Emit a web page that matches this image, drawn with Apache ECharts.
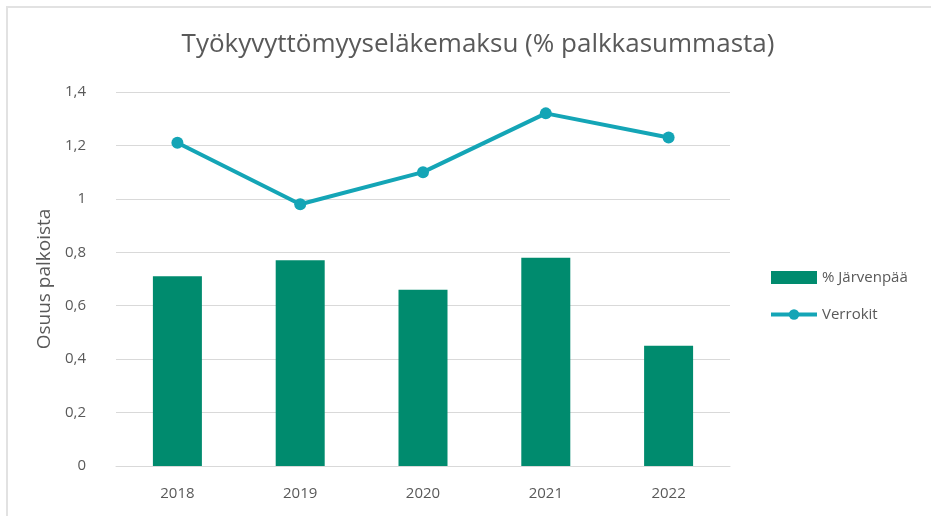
<!DOCTYPE html>
<html>
<head>
<meta charset="utf-8">
<script src="https://cdn.jsdelivr.net/npm/echarts@6/dist/echarts.min.js"></script>
<style>
  html, body { margin: 0; padding: 0; background: #fff; }
  #frame { position: absolute; left: 6px; top: 6px; width: 925px; height: 510px;
           border-left: 2px solid #e2e2e2; border-top: 2px solid #e2e2e2; box-sizing: border-box; }
  #chart { position: absolute; left: 0; top: 0; width: 931px; height: 516px; }
</style>
</head>
<body>
<div id="frame"></div>
<div id="chart"></div>
<script>
const years = ['2018', '2019', '2020', '2021', '2022'];
const jarvenpaa = [0.71, 0.77, 0.66, 0.78, 0.45];
const verrokit = [1.21, 0.98, 1.10, 1.32, 1.23];

const textColor = '#595959';
const font = 'Open Sans';

const myChart = echarts.init(document.getElementById('chart'));

const option = {
  textStyle: { fontFamily: font },
  title: {
    text: 'Työkyvyttömyyseläkemaksu (% palkkasummasta)',
    left: 473,
    textAlign: 'center',
    top: 27,
    textStyle: { fontFamily: font, fontSize: 26, fontWeight: 'normal', color: textColor }
  },
  legend: {
    orient: 'vertical',
    left: 764,
    top: 265,
    itemGap: 22,
    itemWidth: 46,
    itemHeight: 13,
    textStyle: { fontFamily: font, fontSize: 15, color: textColor },
    data: [
      { name: '% Järvenpää', icon: 'rect' },
      { name: 'Verrokit', lineStyle: { width: 4 } }
    ]
  },
  grid: { left: 116, right: 201, top: 92, bottom: 50 },
  xAxis: {
    type: 'category',
    data: years,
    axisTick: { show: false },
    axisLine: { lineStyle: { color: '#d9d9d9', width: 1 } },
    axisLabel: { color: textColor, fontSize: 15, margin: 20 }
  },
  yAxis: {
    type: 'value',
    min: 0,
    max: 1.4,
    interval: 0.2,
    name: 'Osuus palkoista',
    nameLocation: 'middle',
    nameGap: 51,
    nameTextStyle: { color: textColor, fontSize: 19 },
    axisLine: { show: false },
    axisTick: { show: false },
    splitLine: { lineStyle: { color: '#d9d9d9', width: 1 } },
    axisLabel: {
      color: textColor,
      fontSize: 15,
      margin: 30,
      formatter: function (v) {
        return String(Math.round(v * 10) / 10).replace('.', ',');
      }
    }
  },
  series: [
    {
      name: '% Järvenpää',
      type: 'bar',
      data: jarvenpaa,
      barWidth: 49,
      itemStyle: { color: '#008b6e' }
    },
    {
      name: 'Verrokit',
      type: 'line',
      data: verrokit,
      symbol: 'circle',
      symbolSize: 12,
      lineStyle: { color: '#14a5b6', width: 4 },
      itemStyle: { color: '#14a5b6' }
    }
  ]
};

myChart.setOption(option);
</script>
</body>
</html>
